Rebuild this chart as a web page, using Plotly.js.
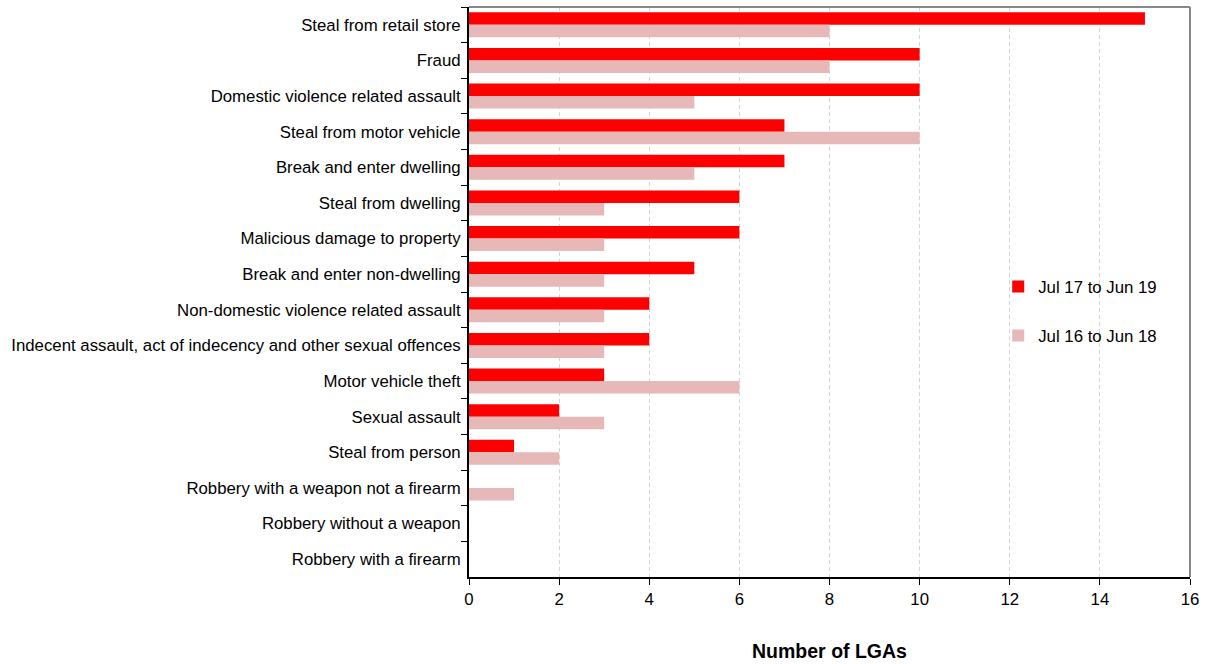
<!DOCTYPE html>
<html>
<head>
<meta charset="utf-8">
<script src="https://cdn.plot.ly/plotly-3.0.1.min.js"></script>
<style>html,body{margin:0;padding:0;background:#fff;}#chart{width:1206px;height:664px;}</style>
</head>
<body>
<div id="chart"></div>
<script>
const categories = [
  "Steal from retail store",
  "Fraud",
  "Domestic violence related assault",
  "Steal from motor vehicle",
  "Break and enter dwelling",
  "Steal from dwelling",
  "Malicious damage to property",
  "Break and enter non-dwelling",
  "Non-domestic violence related assault",
  "Indecent assault, act of indecency and other sexual offences",
  "Motor vehicle theft",
  "Sexual assault",
  "Steal from person",
  "Robbery with a weapon not a firearm",
  "Robbery without a weapon",
  "Robbery with a firearm"
];
const series1Name = "Jul 17 to Jun 19";
const series1 = [15, 10, 10, 7, 7, 6, 6, 5, 4, 4, 3, 2, 1, 0, 0, 0];
const series2Name = "Jul 16 to Jun 18";
const series2 = [8, 8, 5, 10, 5, 3, 3, 3, 3, 3, 6, 3, 2, 1, 0, 0];
const xTicks = [0, 2, 4, 6, 8, 10, 12, 14, 16];

const font = "Liberation Sans, Arial, sans-serif";
const data = [
  {type: "bar", orientation: "h", name: series1Name, y: categories, x: series1,
   marker: {color: "#ff0000"}, legendgroup: "a", hoverinfo: "x+y"},
  {type: "bar", orientation: "h", name: series2Name, y: categories, x: series2,
   marker: {color: "#e6b8b8"}, legendgroup: "b", hoverinfo: "x+y"}
];
const layout = {
  width: 1206, height: 664,
  margin: {l: 469, r: 16, t: 7, b: 87},
  paper_bgcolor: "#fff", plot_bgcolor: "#fff",
  font: {family: font, size: 16.8, color: "#000"},
  barmode: "group", bargap: 0.3, bargroupgap: 0,
  xaxis: {
    range: [0, 16], tickvals: xTicks, ticktext: xTicks.map(String),
    showgrid: true, gridcolor: "#d4d4d4", griddash: "4px,3px", gridwidth: 1,
    zeroline: false, showline: true, linecolor: "#000", linewidth: 2,
    ticks: "outside", ticklen: 6, tickcolor: "#000",
    mirror: false, fixedrange: true,
    title: {text: "<b>Number of LGAs</b>", font: {size: 19.5, family: font}, standoff: 36}
  },
  yaxis: {
    type: "category", autorange: "reversed", categoryorder: "array", categoryarray: categories,
    tickson: "boundaries", ticks: "outside", ticklen: 6, tickcolor: "#000",
    showline: true, linecolor: "#000", linewidth: 2, showgrid: false, zeroline: false,
    ticklabelstandoff: 3, fixedrange: true
  },
  shapes: [
    {type: "line", xref: "paper", yref: "paper", x0: 0, x1: 1, y0: 1, y1: 1, line: {color: "#888", width: 2}},
    {type: "line", xref: "paper", yref: "paper", x0: 1, x1: 1, y0: 0, y1: 1, line: {color: "#888", width: 2}}
  ],
  legend: {
    x: 0.734, y: 0.54, xanchor: "left", yanchor: "top",
    bgcolor: "rgba(0,0,0,0)", font: {size: 16.8, family: font},
    tracegroupgap: 24, itemwidth: 30
  },
  showlegend: true
};
Plotly.newPlot("chart", data, layout, {displayModeBar: false, staticPlot: true});
</script>
</body>
</html>
